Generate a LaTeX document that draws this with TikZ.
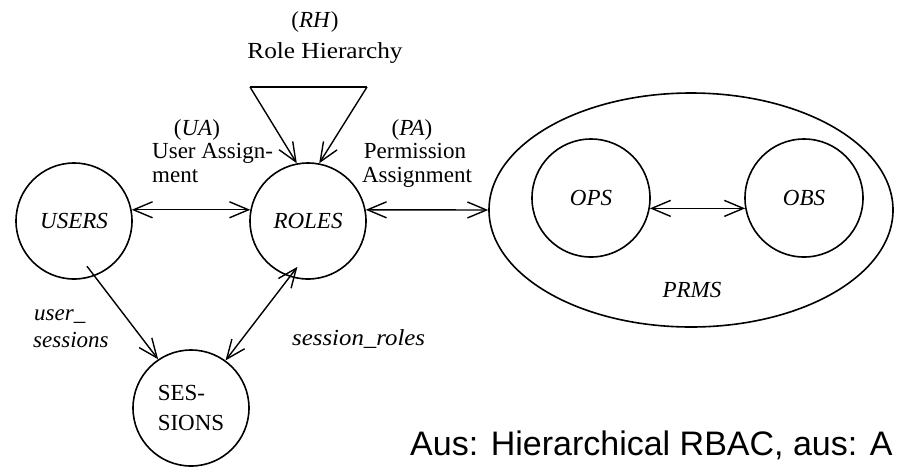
\documentclass[tikz,border=0pt]{standalone}
\usepackage{fontspec}
\usepackage{graphicx}
\setmainfont{Liberation Serif}
\newfontfamily\arialf{Liberation Sans}
\usetikzlibrary{arrows.meta,shapes.geometric,calc}
\begin{document}
\begin{tikzpicture}[x=1pt,y=-1pt,
  circ/.style={draw,circle,line width=1.6pt,minimum size=116pt,inner sep=0pt,
    font=\fontsize{23}{30}\selectfont\itshape},
  lbl/.style={inner sep=0pt,font=\fontsize{23}{27}\selectfont},
  ilbl/.style={inner sep=0pt,font=\fontsize{23}{27}\selectfont\itshape},
  arr/.style={line width=1.4pt,-{Straight Barb[length=19pt,width=16pt]}},
  dbl/.style={line width=1.4pt,{Straight Barb[length=19pt,width=16pt]}-{Straight Barb[length=19pt,width=16pt]}}]
\useasboundingbox (0,0) rectangle (897,467);
\fill[white] (0,0) rectangle (897,467);

% main nodes
\node[circ] (users) at (74,221) {USERS};
\node[circ] (roles) at (308,221) {ROLES};
\node[circ,align=left,font=\fontsize{23}{30}\selectfont] (sessions) at (191,408) {SES-\\SIONS};
\node[draw,ellipse,line width=1.6pt,minimum width=404pt,minimum height=234pt,inner sep=0pt] (prms) at (691,210) {};
\node[circ,minimum size=118pt] (ops) at (591,198) {OPS};
\node[circ,minimum size=118pt] (obs) at (804,198) {OBS};

% labels
\node[lbl,anchor=base] (rhA) at (315,27) {(\textit{RH})};
\node[lbl,anchor=base] (rhB) at (325,58) {\scalebox{1.1}[1]{Role Hierarchy}};
\node[lbl,anchor=base] (uaA) at (197,135) {(\textit{UA})};
\node[lbl,anchor=base west] (uaB) at (152,158) {User Assign-};
\node[lbl,anchor=base west] (uaC) at (152,182) {ment};
\node[lbl,anchor=base] (paA) at (412,135) {(\textit{PA})};
\node[lbl,anchor=base] (paB) at (415,158) {Permission};
\node[lbl,anchor=base] (paC) at (417,182) {Assignment};
\node[ilbl,anchor=base] (prmsl) at (692,297) {PRMS};
\node[ilbl,anchor=base west] (usA) at (34,320) {user\_};
\node[ilbl,anchor=base west] (usB) at (33,347) {sessions};
\node[ilbl,anchor=base west] (sr) at (292,345) {\scalebox{1.08}[1]{session\_roles}};
\node[inner sep=0pt,anchor=base west,font=\arialf\fontsize{34}{40}\selectfont] (cap) at (410,455) {Aus: Hierarchical RBAC, aus: A};

% role hierarchy triangle
\coordinate (rh1) at (250,87);
\coordinate (rh2) at (367,87);
\draw[line width=1.5pt] (rh1) -- (rh2);
\draw[arr] (rh1) -- (roles.101);
\draw[arr] (rh2) -- (roles.79);

% connectors
\draw[dbl] (users.11) -- (roles.169);
\draw[dbl] (roles.11) -- (prms.west);
\draw[dbl] (ops.-10) -- (obs.190);
\draw[arr] ($(users.center)!0.8!(users.-74)$) -- (sessions.124);
\draw[dbl] ($(roles.center)!0.8!(roles.-103)$) -- (sessions.54);
\end{tikzpicture}
\end{document}
